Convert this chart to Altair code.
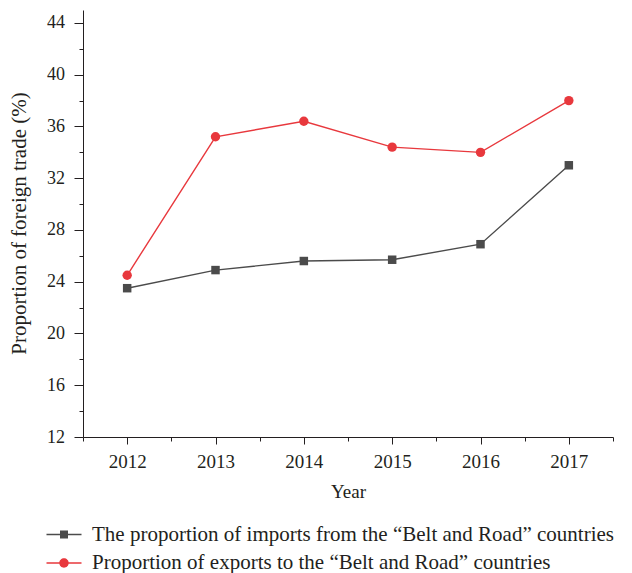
import altair as alt
import pandas as pd

years = [2012, 2013, 2014, 2015, 2016, 2017]
imports_share = [23.5, 24.9, 25.6, 25.7, 26.9, 33.0]
exports_share = [24.5, 35.2, 36.4, 34.4, 34.0, 38.0]
series_names = [
    "The proportion of imports from the \u201cBelt and Road\u201d countries",
    "Proportion of exports to the \u201cBelt and Road\u201d countries",
]
series_colors = ["#4b4b4b", "#e8383d"]
x_major = [2012, 2013, 2014, 2015, 2016, 2017]
x_minor = [2011.5, 2012.5, 2013.5, 2014.5, 2015.5, 2016.5, 2017.5]
y_major = [12, 16, 20, 24, 28, 32, 36, 40, 44]
y_minor = [14, 18, 22, 26, 30, 34, 38, 42]

df = pd.DataFrame({
    "Year": years + years,
    "Share": imports_share + exports_share,
    "Series": [series_names[0]] * len(years) + [series_names[1]] * len(years),
})

FONT = "Liberation Serif"
TXT = "#231f20"

# legend symbols: a thin bar with a square / circle on it (filled paths)
k = 0.2596
square_path = "M-1.75,-0.07H1.75V0.07H-1.75Z M-0.4,-0.4H0.4V0.4H-0.4Z"
circle_path = ("M-1.75,-0.07H1.75V0.07H-1.75Z "
               f"M0.47,0C0.47,{k} {k},0.47 0,0.47C-{k},0.47 -0.47,{k} -0.47,0"
               f"C-0.47,-{k} -{k},-0.47 0,-0.47C{k},-0.47 0.47,-{k} 0.47,0Z")

x_scale = alt.Scale(domain=[2011.5, 2017.5], nice=False, zero=False)
y_scale = alt.Scale(domain=[12, 45], nice=False, zero=False)

x_axis_major = alt.Axis(
    orient="bottom", values=x_major, format="d", title="Year",
    tickSize=7, labelPadding=8, labelOverlap=False, grid=False, labelFontSize=19,
    titleX=265, titleY=60, titleBaseline="alphabetic", titleAlign="center",
)
y_axis_major = alt.Axis(
    orient="left", values=y_major, format="d", title="Proportion of foreign trade (%)",
    tickSize=9, labelPadding=9.5, labelOverlap=False, grid=False, labelFontSize=18,
    titleAngle=270, titleX=-58, titleY=213, titleBaseline="alphabetic", titleAlign="center",
    titleFontSize=21,
)
x_axis_minor = alt.Axis(orient="bottom", values=x_minor, tickSize=4, labels=False,
                        domain=False, grid=False, title=None)
y_axis_minor = alt.Axis(orient="left", values=y_minor, tickSize=4, labels=False,
                        domain=False, grid=False, title=None)

color_scale = alt.Scale(domain=series_names, range=series_colors)

base = alt.Chart(df)

legend_def = alt.Legend(
    title=None, orient="none", legendX=-29.5, legendY=514, direction="vertical",
    symbolSize=400, labelOffset=17.5, rowPadding=6.5, padding=0,
    labelFont=FONT, labelFontSize=21, labelColor=TXT, labelLimit=1000,
    symbolStrokeWidth=0, symbolOpacity=1,
)
# invisible layer that only carries the legend
legend_layer = base.mark_point(filled=True, opacity=0).encode(
    x=alt.X("Year:Q", scale=x_scale, axis=None),
    y=alt.Y("Share:Q", scale=y_scale, axis=None),
    color=alt.Color("Series:N", scale=color_scale, legend=legend_def),
    shape=alt.Shape("Series:N", scale=alt.Scale(domain=series_names, range=[square_path, circle_path]),
                    legend=legend_def),
)

lines = base.mark_line(strokeWidth=1.4).encode(
    x=alt.X("Year:Q", scale=x_scale, axis=x_axis_major),
    y=alt.Y("Share:Q", scale=y_scale, axis=y_axis_major),
    color=alt.Color("Series:N", scale=color_scale),
    order=alt.Order("Year:Q"),
)

squares = base.transform_filter(
    alt.datum.Series == series_names[0]
).mark_point(filled=True, shape="square", size=72, opacity=1).encode(
    x=alt.X("Year:Q", scale=x_scale, axis=x_axis_minor),
    y=alt.Y("Share:Q", scale=y_scale, axis=y_axis_minor),
    color=alt.Color("Series:N", scale=color_scale),
)

circles = base.transform_filter(
    alt.datum.Series == series_names[1]
).mark_point(filled=True, shape="circle", size=88, opacity=1).encode(
    x=alt.X("Year:Q", scale=x_scale, axis=None),
    y=alt.Y("Share:Q", scale=y_scale, axis=None),
    color=alt.Color("Series:N", scale=color_scale),
)

chart = alt.layer(legend_layer, lines, squares, circles).resolve_axis(
    x="independent", y="independent"
).properties(
    width=530, height=427,
    autosize=alt.AutoSizeParams(type="none"),
    padding={"left": 75, "top": 2, "right": 11, "bottom": 136},
).configure_view(stroke=None).configure_axis(
    domainColor=TXT, tickColor=TXT, domainWidth=1, tickWidth=1,
    labelFont=FONT, labelFontSize=19, labelColor=TXT,
    titleFont=FONT, titleFontSize=19, titleColor=TXT, titleFontWeight="normal",
)

chart.save("out.html", embed_options={"renderer": "svg", "actions": False})
